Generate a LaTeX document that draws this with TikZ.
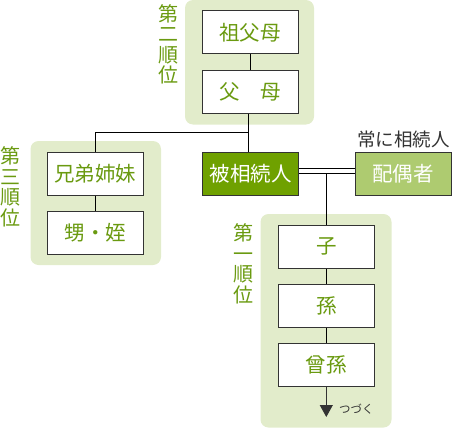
\documentclass[tikz,border=0pt]{standalone}
\usepackage{fontspec}
\setmainfont{Noto Sans CJK JP}
\usetikzlibrary{arrows.meta}
\definecolor{panel}{HTML}{E2ECCB}
\definecolor{txtgreen}{HTML}{6A9A10}
\definecolor{darkgreen}{HTML}{6FA100}
\definecolor{lightgreen}{HTML}{AECB70}
\definecolor{edge}{HTML}{333333}
\tikzset{
  panelbox/.style={fill=panel, draw=none, rounded corners=8pt},
  person/.style={draw=edge, line width=1pt, fill=white, minimum width=96pt, minimum height=43pt,
    inner sep=0pt, text=txtgreen, font=\fontsize{20.5}{20.5}\selectfont},
  rank/.style={text=txtgreen, align=center, inner sep=0pt, font=\fontsize{20}{20.5}\selectfont},
  conn/.style={draw=black, line width=1pt},
}
\begin{document}
\begin{tikzpicture}[x=1pt,y=-1pt]
\useasboundingbox (0,0) rectangle (452,428);
% panels
\fill[panelbox] (185,0) rectangle (314,124.5);
\fill[panelbox] (30.5,141) rectangle (161,265);
\fill[panelbox] (260.5,214) rectangle (391.5,427.5);
% rank labels
\node[rank] (r2) at (168,44.5) {第\\二\\順\\位};
\node[rank] (r3) at (10,187) {第\\三\\順\\位};
\node[rank] (r1) at (243,264) {第\\一\\順\\位};
% boxes
\node[person] (sofubo) at (250,32.5) {祖父母};
\node[person] (fubo) at (250,91.5) {父　母};
\node[person] (kyodai) at (95.3,173.6) {兄弟姉妹};
\node[person] (oimei) at (95.3,232.5) {甥・姪};
\node[person, fill=darkgreen, text=white] (hi) at (250.5,173.6) {被相続人};
\node[person, draw=edge, fill=lightgreen, text=white] (haigu) at (403,173.6) {配偶者};
\node[person] (ko) at (326.3,246.8) {子};
\node[person] (mago) at (326.3,305.8) {孫};
\node[person] (himago) at (326.3,364.7) {曾孫};
\node[text=edge, inner sep=0pt, font=\fontsize{18.5}{18.5}\selectfont] (tsune) at (403.5,139.5) {常に相続人};
% connectors
\coordinate (junc) at (248.3,132.3);
\coordinate (end) at (326.3,417);
\draw[conn] (sofubo) -- (fubo);
\draw[conn] (fubo.south -| junc) -- (hi.north -| junc);
\draw[conn] (junc) -| (kyodai.north);
\draw[conn] (kyodai) -- (oimei);
\draw[conn] ([yshift=5.2pt]hi.east) -- ([yshift=5.2pt]haigu.west);
\draw[conn] ([yshift=0.3pt]hi.east) -- ([yshift=0.3pt]haigu.west);
\draw[conn] ([yshift=0.3pt]hi.east -| ko.north) -- (ko.north);
\draw[conn] (ko) -- (mago);
\draw[conn] (mago) -- (himago);
\draw[conn, -{Triangle[width=13pt,length=12pt]}, draw=edge, fill=edge] (himago.south) -- (end);
\node[text=edge, anchor=west, inner sep=0pt, font=\fontsize{11.5}{12}\selectfont] (tsuzuku) at (339,409) {つづく};
\end{tikzpicture}
\end{document}
